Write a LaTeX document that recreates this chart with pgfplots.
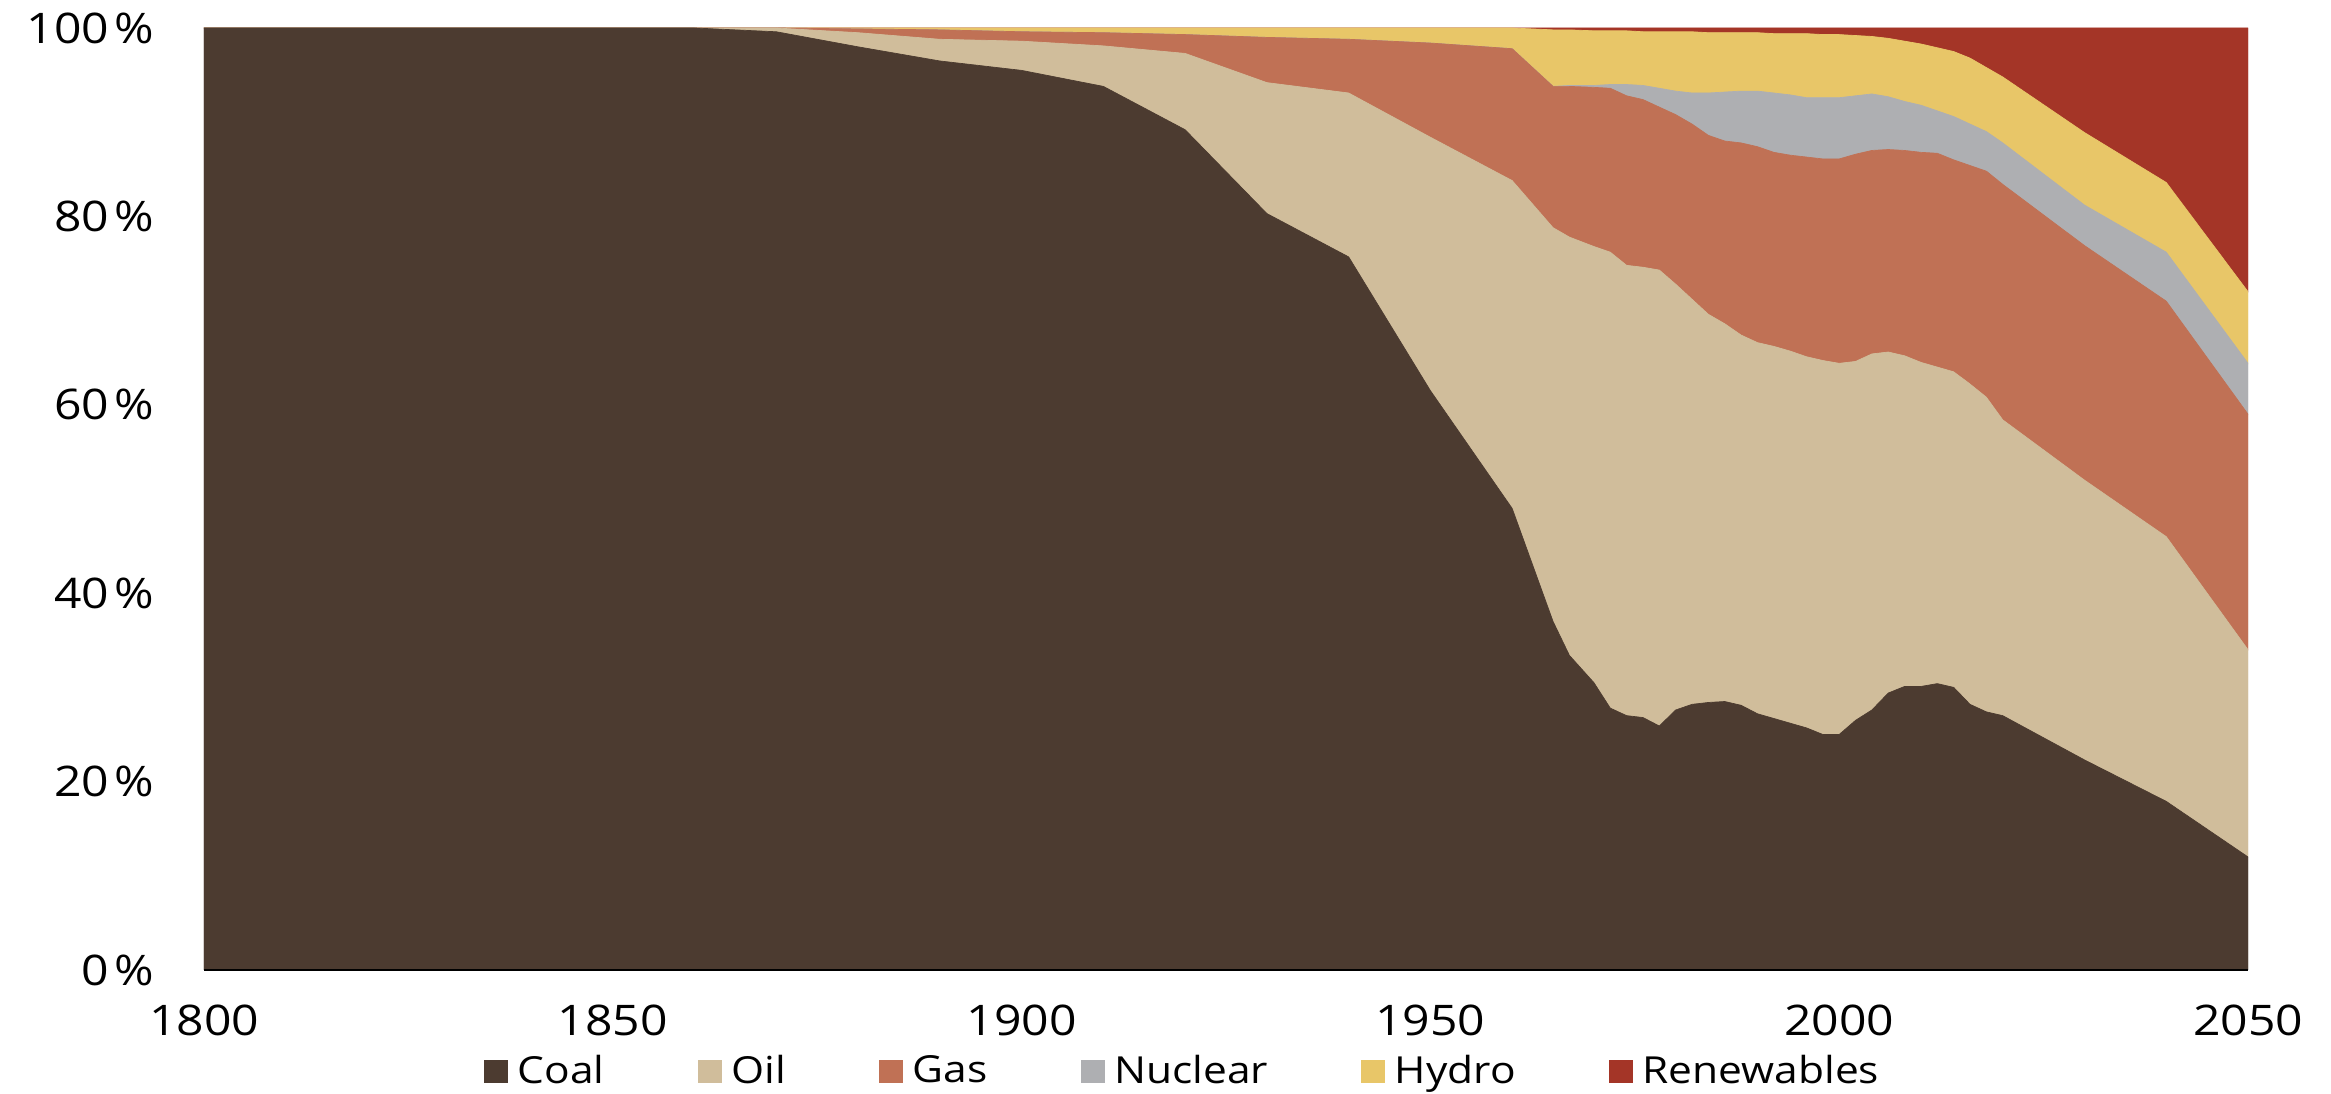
\documentclass[border=0pt]{standalone}
\usepackage{fontspec}
\setmainfont{Open Sans}[FakeStretch=1.14]
\usepackage{pgfplots}
\usepackage{pgfplotstable}
\pgfplotsset{compat=1.18}
\definecolor{coalc}{HTML}{4C3B30}
\definecolor{oilc}{HTML}{D0BD9B}
\definecolor{gasc}{HTML}{C07155}
\definecolor{nucc}{HTML}{AEAFB2}
\definecolor{hydroc}{HTML}{E8C668}
\definecolor{renc}{HTML}{A43527}

\pgfplotstableread{
year coal oil gas nuclear hydro renew
1800 100 0 0 0 0 0
1850 100 0 0 0 0 0
1860 100 0 0 0 0 0
1870 99.6 0.4 0 0 0 0
1880 98.0 1.5 0.4 0 0.1 0
1890 96.5 2.3 1.0 0 0.2 0
1900 95.5 3.1 1.0 0 0.4 0
1910 93.8 4.3 1.4 0 0.5 0
1920 89.2 8.1 2.0 0 0.7 0
1930 80.3 13.9 4.8 0 1.0 0
1940 75.7 17.4 5.7 0 1.2 0
1950 61.5 26.9 10.0 0 1.6 0
1960 49.0 34.8 14.0 0 2.2 0
1965 37.0 41.8 15.0 0 6.0 0.2
1967 33.4 44.4 16.0 0.1 5.9 0.2
1970 30.5 46.3 16.9 0.2 5.8 0.3
1972 27.8 48.4 17.4 0.4 5.7 0.3
1974 27.0 47.8 18.0 1.2 5.7 0.3
1976 26.8 47.8 17.8 1.5 5.7 0.4
1978 25.9 48.4 17.3 2.0 6.0 0.4
1980 27.6 45.2 18.0 2.5 6.3 0.4
1982 28.2 43.0 18.6 3.3 6.5 0.4
1984 28.4 41.2 19.0 4.5 6.4 0.5
1986 28.5 40.1 19.4 5.2 6.3 0.5
1988 28.1 39.3 20.4 5.5 6.2 0.5
1990 27.2 39.4 20.8 5.9 6.2 0.5
1992 26.7 39.5 20.6 6.3 6.3 0.6
1994 26.2 39.5 20.8 6.4 6.5 0.6
1996 25.7 39.4 21.2 6.3 6.8 0.6
1998 25.0 39.7 21.4 6.5 6.7 0.7
2000 25.0 39.4 21.7 6.5 6.7 0.7
2002 26.5 38.1 22.0 6.2 6.4 0.8
2004 27.6 37.8 21.6 6.0 6.1 0.9
2006 29.4 36.2 21.5 5.6 6.2 1.1
2008 30.1 35.1 21.8 5.2 6.4 1.4
2010 30.1 34.4 22.3 5.0 6.5 1.7
2012 30.4 33.6 22.7 4.5 6.7 2.1
2014 30.0 33.5 22.5 4.6 6.9 2.5
2016 28.2 34.0 23.2 4.4 7.0 3.2
2018 27.4 33.4 24.0 4.2 6.8 4.2
2020 27.0 31.4 25.0 4.4 7.0 5.2
2030 22.3 29.7 24.9 4.3 7.7 11.1
2040 17.9 28.1 25.0 5.2 7.4 16.4
2050 12.0 22.0 25.0 5.4 7.6 28.0
}\energy

\begin{document}
\begin{tikzpicture}
\begin{axis}[
  name=ax,
  width=204.4mm, height=94.2mm, scale only axis,
  xmin=1800, xmax=2050, ymin=0, ymax=100,
  stack plots=y,
  xtick={1800,1850,1900,1950,2000,2050},
  ytick={0,20,40,60,80,100},
  /pgf/number format/assume math mode=true,
  /pgf/number format/1000 sep={},
  yticklabel={\pgfmathprintnumber{\tick}\kern0.6mm\%},
  xticklabel style={font=\fontsize{12}{14}\selectfont, yshift=-2.3mm},
  yticklabel style={font=\fontsize{12}{14}\selectfont, xshift=-3.7mm},
  axis x line*=bottom, axis y line*=left,
  y axis line style={draw=none},
  x axis line style={line width=0.6pt, black},
  major tick length=0pt,
  tick style={draw=none},
  axis on top,
  legend columns=6,
  legend style={draw=none, at={(0.480,-0.108)}, anchor=center,
    font=\fontsize{10.6}{12}\selectfont,
    /tikz/every even column/.append style={column sep=8.6mm}},
  legend image code/.code={\fill[#1] (0mm,-1.1mm) rectangle (2.3mm,1.1mm); \path (2.6mm,0);},
]
\addplot[fill=coalc, draw=coalc, line width=0.2pt] table[x=year, y=coal]{\energy} \closedcycle;
\addlegendentry{Coal}
\addplot[fill=oilc, draw=oilc, line width=0.2pt] table[x=year, y=oil]{\energy} \closedcycle;
\addlegendentry{Oil}
\addplot[fill=gasc, draw=gasc, line width=0.2pt] table[x=year, y=gas]{\energy} \closedcycle;
\addlegendentry{Gas}
\addplot[fill=nucc, draw=nucc, line width=0.2pt] table[x=year, y=nuclear]{\energy} \closedcycle;
\addlegendentry{Nuclear}
\addplot[fill=hydroc, draw=hydroc, line width=0.2pt] table[x=year, y=hydro]{\energy} \closedcycle;
\addlegendentry{Hydro}
\addplot[fill=renc, draw=renc, line width=0.2pt] table[x=year, y=renew]{\energy} \closedcycle;
\addlegendentry{Renewables}
\end{axis}
\pgfresetboundingbox
\path ([shift={(-20.4mm,-12.4mm)}]ax.south west) rectangle ([shift={(8.3mm,2.8mm)}]ax.north east);
\end{tikzpicture}
\end{document}
